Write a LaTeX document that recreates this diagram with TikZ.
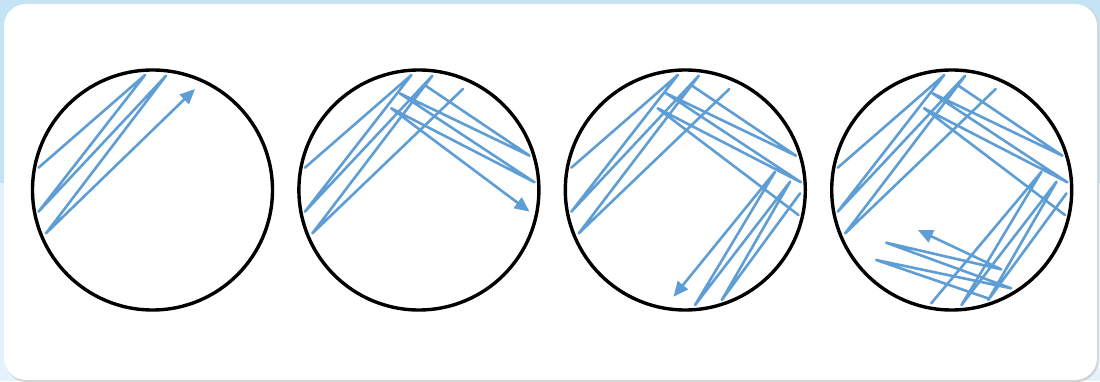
\documentclass[tikz,border=0pt]{standalone}
\usepackage{xcolor}
\definecolor{streakblue}{RGB}{94,158,212}
\definecolor{framesky}{RGB}{196,227,245}
\definecolor{framepale}{RGB}{228,243,251}
\usetikzlibrary{arrows.meta,positioning}

% streak runs, measured from the plate centre
\newcommand{\streakone}{(-114,22.3) -- (-7.5,115) -- (-114,-21.7) -- (13.5,114.3) -- (-106.5,-43.3)}
\newcommand{\streaktwo}{(5.7,105) -- (110.7,34.3) -- (-19.3,96.7) -- (115.7,7.7) -- (-27.7,81.7)}
\newcommand{\streakthree}{(114.8,-3.3) -- (36.5,-110) -- (104.8,8.3) -- (9.8,-115) -- (89.8,18.3)}
\newcommand{\streakfour}{(36.2,-108.3) -- (-75.5,-70) -- (59.5,-98.3) -- (-65.5,-52.7) -- (49.5,-79.3)}

\begin{document}
\begin{tikzpicture}[x=1pt,y=1pt,
  node distance=23pt,
  plate/.style={circle,draw=black,line width=3.4pt,minimum size=240pt,inner sep=0pt},
  streak/.style={streakblue,line width=2.6pt,line join=round,line cap=round},
  tip/.style={-{Triangle[length=15pt,width=13pt]}},
]
\useasboundingbox (0,0) rectangle (1100,381);
\fill[framepale] (0,0) rectangle (1100,381);
\fill[framesky] (0,198) rectangle (1100,381);
\fill[gray!35,rounded corners=22pt] (5,-1) rectangle (1098.5,377);
\fill[white,rounded corners=22pt] (4,1) rectangle (1097,377);

\node[plate]             (p1) at (152.5,191) {};
\node[plate,right=of p1] (p2) {};
\node[plate,right=of p2] (p3) {};
\node[plate,right=of p3] (p4) {};

% first quadrant only
\begin{scope}[shift={(p1.center)}]
  \draw[streak,tip] \streakone -- (42.5,101);
\end{scope}

% second run through the first
\begin{scope}[shift={(p2.center)}]
  \draw[streak] \streakone -- (44,101);
  \draw[streak,tip] \streaktwo -- (110.7,-21.7);
\end{scope}

% third run
\begin{scope}[shift={(p3.center)}]
  \draw[streak] \streakone -- (44,101);
  \draw[streak] \streaktwo -- (113.2,-25);
  \draw[streak,tip] \streakthree -- (-11.8,-106.7);
\end{scope}

% fourth run
\begin{scope}[shift={(p4.center)}]
  \draw[streak] \streakone -- (44,101);
  \draw[streak] \streaktwo -- (113.2,-25);
  \draw[streak] \streakthree -- (-20.5,-113.3);
  \draw[streak,tip] \streakfour -- (-33.8,-40);
\end{scope}

\end{tikzpicture}
\end{document}
